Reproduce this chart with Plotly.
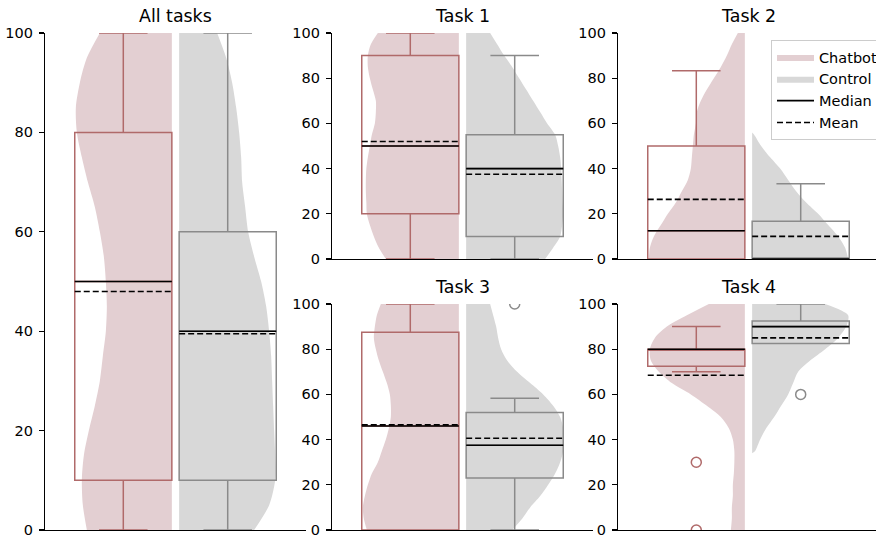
import plotly.graph_objects as go

# ---------------- data ----------------
panels = ["All tasks", "Task 1", "Task 2", "Task 3", "Task 4"]
groups = ["Chatbot", "Control"]

q1_chatbot = [10, 20, 0, 0, 72.5]
q1_control = [10, 10, 0, 23, 82.5]
median_chatbot = [50, 50, 12.5, 46, 80]
median_control = [40, 40, 0, 37.5, 90]
q3_chatbot = [80, 90, 50, 87.5, 80]
q3_control = [60, 55, 16.7, 52, 92.5]
mean_chatbot = [48, 52, 26.4, 46.5, 68.5]
mean_control = [39.5, 37.5, 10, 40.6, 85]
low_whisker_chatbot = [0, 0, 0, 0, 70]
low_whisker_control = [0, 0, 0, 0, 82.5]
high_whisker_chatbot = [100, 100, 83.3, 100, 90]
high_whisker_control = [100, 90, 33.3, 58.3, 100]
outliers_chatbot = [[], [], [], [], [30, 0]]
outliers_control = [[], [], [], [100], [60]]

# half-violin density profiles (relative width) read at score levels
density_y = [0, 5, 10, 15, 20, 25, 30, 35, 40, 45, 50, 55, 60, 65, 70, 75, 80, 85, 90, 95, 100]
density_all_chatbot = [0.85, 0.89, 0.90, 0.88, 0.83, 0.77, 0.72, 0.69, 0.66, 0.65, 0.66, 0.68, 0.72, 0.77, 0.84, 0.90, 0.95, 0.96, 0.92, 0.85, 0.72]
density_all_control = [0.75, 0.90, 0.96, 0.96, 0.95, 0.94, 0.93, 0.92, 0.90, 0.87, 0.82, 0.75, 0.69, 0.66, 0.63, 0.62, 0.60, 0.57, 0.53, 0.47, 0.38]
density_t1_chatbot = [0.73, 0.80, 0.85, 0.89, 0.92, 0.925, 0.93, 0.93, 0.925, 0.91, 0.89, 0.87, 0.84, 0.83, 0.83, 0.86, 0.89, 0.91, 0.91, 0.88, 0.81]
density_t1_control = [0.79, 0.87, 0.94, 0.96, 0.97, 0.965, 0.96, 0.955, 0.95, 0.94, 0.92, 0.89, 0.81, 0.74, 0.67, 0.60, 0.53, 0.46, 0.38, 0.31, 0.24]
density_t2_chatbot = [0.96, 0.95, 0.91, 0.84, 0.77, 0.69, 0.63, 0.57, 0.54, 0.53, 0.52, 0.51, 0.49, 0.48, 0.44, 0.38, 0.31, 0.24, 0.18, 0.13, 0.07]
density_t2_control_y = [0, 5, 10, 15, 20, 25, 30, 35, 40, 45, 50, 55, 56]
density_t2_control = [0.96, 0.93, 0.86, 0.76, 0.66, 0.54, 0.44, 0.36, 0.28, 0.18, 0.09, 0.02, 0.0]
density_t3_chatbot = [0.92, 0.95, 0.96, 0.94, 0.91, 0.87, 0.81, 0.77, 0.73, 0.70, 0.68, 0.68, 0.69, 0.72, 0.76, 0.80, 0.83, 0.85, 0.84, 0.82, 0.78]
density_t3_control = [0.46, 0.56, 0.64, 0.74, 0.82, 0.89, 0.94, 0.97, 0.97, 0.97, 0.94, 0.87, 0.77, 0.64, 0.51, 0.41, 0.35, 0.32, 0.30, 0.27, 0.24]
density_t4_chatbot = [0.14, 0.13, 0.13, 0.12, 0.12, 0.11, 0.105, 0.105, 0.12, 0.16, 0.24, 0.38, 0.54, 0.73, 0.86, 0.94, 0.95, 0.90, 0.78, 0.58, 0.36]
density_t4_control_y = [34, 35, 40, 45, 50, 55, 60, 65, 70, 75, 80, 85, 90, 95, 100]
density_t4_control = [0.0, 0.03, 0.08, 0.14, 0.22, 0.29, 0.36, 0.41, 0.46, 0.58, 0.73, 0.86, 0.94, 0.96, 0.73]

violins_chatbot = [
    (density_y, density_all_chatbot),
    (density_y, density_t1_chatbot),
    (density_y, density_t2_chatbot),
    (density_y, density_t3_chatbot),
    (density_y, density_t4_chatbot),
]
violins_control = [
    (density_y, density_all_control),
    (density_y, density_t1_control),
    (density_t2_control_y, density_t2_control),
    (density_y, density_t3_control),
    (density_t4_control_y, density_t4_control),
]

y_ticks = [0, 20, 40, 60, 80, 100]

# ---------------- style / layout ----------------
W, H = 876, 541
FONT = "DejaVu Sans"
CHAT_LINE = "#b06a6a"
CHAT_FILL = "#e3cfd2"
CTRL_LINE = "#8a8a8a"
CTRL_FILL = "#d8d8d8"
BOX_HALF = 0.465
PX_PER_UNIT = 261 / 2.5
DENS_SCALE = 100 / PX_PER_UNIT
N = len(panels)

# pixel boxes of the panels: (left, right, top, bottom)
panel_px = [
    (45, 306, 33, 530),
    (332, 593, 33, 259),
    (618, 879, 33, 259),
    (332, 593, 304, 530),
    (618, 879, 304, 530),
]

fig = go.Figure()
legend_done = {"Chatbot": False, "Control": False, "Median": False, "Mean": False}


def ax_names(i):
    return ("x" if i == 0 else f"x{i+1}", "y" if i == 0 else f"y{i+1}")


for i, name in enumerate(panels):
    xa, ya = ax_names(i)
    yo = f"y{N + i + 1}"  # overlay axis drawn above the violins
    for g, pos in ((0, 0.0), (1, 1.0)):
        if g == 0:
            vy, vd = violins_chatbot[i]
            edge = pos + BOX_HALF
            sign = -1
            fill, line = CHAT_FILL, CHAT_LINE
            q1, med, q3 = q1_chatbot[i], median_chatbot[i], q3_chatbot[i]
            mn, lo, hi = mean_chatbot[i], low_whisker_chatbot[i], high_whisker_chatbot[i]
            outs = outliers_chatbot[i]
            gname = "Chatbot"
        else:
            vy, vd = violins_control[i]
            edge = pos - BOX_HALF
            sign = 1
            fill, line = CTRL_FILL, CTRL_LINE
            q1, med, q3 = q1_control[i], median_control[i], q3_control[i]
            mn, lo, hi = mean_control[i], low_whisker_control[i], high_whisker_control[i]
            outs = outliers_control[i]
            gname = "Control"
        # half violin: flat edge + curved side
        fig.add_trace(go.Scatter(x=[edge] * len(vy), y=vy, mode="lines",
                                 line=dict(width=0, color=fill), showlegend=False,
                                 hoverinfo="skip", xaxis=xa, yaxis=ya))
        fig.add_trace(go.Scatter(x=[edge + sign * d * DENS_SCALE for d in vd], y=vy,
                                 mode="lines", fill="tonextx", fillcolor=fill,
                                 line=dict(width=0, color=fill, shape="spline", smoothing=0.8),
                                 name=gname, showlegend=not legend_done[gname],
                                 legendrank=1 + g, hoverinfo="skip", xaxis=xa, yaxis=ya))
        legend_done[gname] = True
        # box (on overlay axis so that it sits above the violin)
        fig.add_trace(go.Box(x=[pos], q1=[q1], median=[med], q3=[q3],
                             lowerfence=[lo], upperfence=[hi], width=2 * BOX_HALF,
                             whiskerwidth=0.5, fillcolor="rgba(0,0,0,0)",
                             line=dict(color=line, width=1.5), boxpoints=False,
                             showlegend=False, hoverinfo="skip", xaxis=xa, yaxis=yo))
        # median & mean
        fig.add_trace(go.Scatter(x=[pos - BOX_HALF, pos + BOX_HALF], y=[med, med], mode="lines",
                                 line=dict(color="black", width=1.6), name="Median",
                                 showlegend=not legend_done["Median"], legendrank=3,
                                 hoverinfo="skip", xaxis=xa, yaxis=yo))
        legend_done["Median"] = True
        fig.add_trace(go.Scatter(x=[pos - BOX_HALF, pos + BOX_HALF], y=[mn, mn], mode="lines",
                                 line=dict(color="black", width=1.6, dash="6px,3px"), name="Mean",
                                 showlegend=not legend_done["Mean"], legendrank=4,
                                 hoverinfo="skip", xaxis=xa, yaxis=yo))
        legend_done["Mean"] = True
        if outs:
            fig.add_trace(go.Scatter(x=[pos] * len(outs), y=outs, mode="markers",
                                     marker=dict(symbol="circle-open", size=10,
                                                 line=dict(color=line, width=1.5), color=line),
                                     showlegend=False, hoverinfo="skip", xaxis=xa, yaxis=yo))

layout = dict(
    width=W, height=H, margin=dict(l=0, r=0, t=0, b=0, autoexpand=False),
    paper_bgcolor="white", plot_bgcolor="white", boxmode="overlay",
    font=dict(family=FONT, size=14.5, color="black"),
    legend=dict(x=771 / W, y=1 - 40 / H, xanchor="left", yanchor="top",
                bgcolor="rgba(255,255,255,0.85)", bordercolor="#cccccc", borderwidth=1,
                itemwidth=37,
                font=dict(family=FONT, size=14.5, color="black"), traceorder="normal"),
    annotations=[],
)

for i, name in enumerate(panels):
    l, r, t, b = panel_px[i]
    xk = "xaxis" if i == 0 else f"xaxis{i+1}"
    yk = "yaxis" if i == 0 else f"yaxis{i+1}"
    xa, ya = ax_names(i)
    dom_r = min(r, W)
    layout[xk] = dict(domain=[l / W, dom_r / W], anchor=ya,
                      range=[-0.75, -0.75 + (dom_r - l) / PX_PER_UNIT],
                      showline=True, linecolor="black", linewidth=1.2,
                      showticklabels=False, ticks="", showgrid=False, zeroline=False,
                      fixedrange=True)
    layout[yk] = dict(domain=[1 - b / H, 1 - t / H], anchor=xa, range=[0, 100],
                      tickvals=y_ticks, ticks="outside", ticklen=5, tickwidth=1.2,
                      tickcolor="black", showline=True, linecolor="black", linewidth=1.2,
                      showgrid=False, zeroline=False, ticklabelstandoff=3,
                      tickfont=dict(family=FONT, size=14.5, color="black"))
    layout[f"yaxis{N + i + 1}"] = dict(overlaying=ya, anchor=xa, range=[0, 100],
                                       visible=False, showgrid=False, zeroline=False)
    layout["annotations"].append(dict(
        text=name, x=(l + r) / 2 / W, y=1 - (t - 17) / H, xref="paper", yref="paper",
        xanchor="center", yanchor="middle", showarrow=False,
        font=dict(family=FONT, size=17.4, color="black")))

fig.update_layout(**layout)
fig.write_html("out.html", config={"displayModeBar": False, "staticPlot": True},
               post_script="document.body.style.margin='0px';")
